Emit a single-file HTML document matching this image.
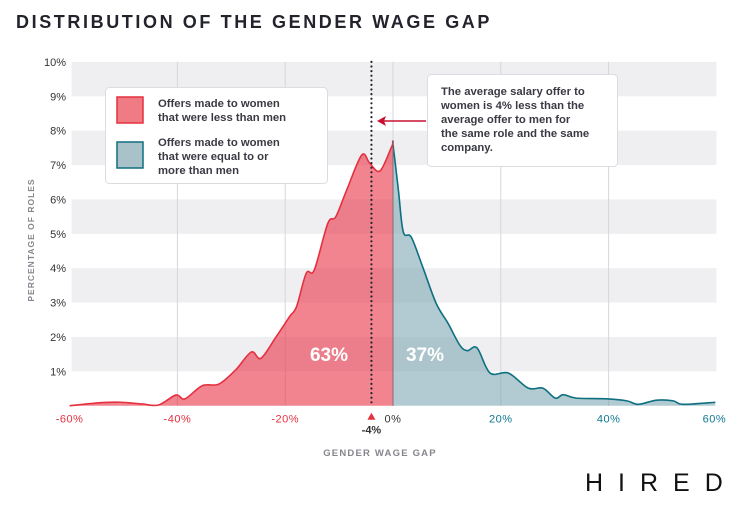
<!DOCTYPE html>
<html><head><meta charset="utf-8"><style>
body{margin:0;background:#fff;width:736px;height:507px;overflow:hidden;font-family:"Liberation Sans",sans-serif}
</style></head><body>
<svg width="736" height="507" xmlns="http://www.w3.org/2000/svg">
<text x="16" y="28" font-size="18" font-weight="bold" fill="#23232e" letter-spacing="2.6">DISTRIBUTION OF THE GENDER WAGE GAP</text>
<g id="bands"></g>
<g id="grid"></g>
<g id="yticks"></g>
<g id="xticks"></g>
<g id="areas"></g>
<text x="34" y="240" transform="rotate(-90 34 240)" font-size="8.5" font-weight="bold" fill="#85858e" text-anchor="middle" letter-spacing="1">PERCENTAGE OF ROLES</text>
<text x="380" y="456" font-size="9.5" font-weight="bold" fill="#85858e" text-anchor="middle" letter-spacing="1.2">GENDER WAGE GAP</text>
<g>
<rect x="105.5" y="87.5" width="222" height="96" rx="4" fill="#fff" stroke="#dcdce0"/>
<rect x="117" y="97" width="26" height="26" fill="#ef7b84" stroke="#e5303f" stroke-width="1.5"/>
<text font-size="11.3" font-weight="bold" fill="#3a3a44"><tspan x="158" y="107">Offers made to women</tspan><tspan x="158" y="121">that were less than men</tspan></text>
<rect x="117" y="142" width="26" height="26" fill="#a9c2ca" stroke="#0e6f80" stroke-width="1.5"/>
<text font-size="11.3" font-weight="bold" fill="#3a3a44"><tspan x="158" y="146">Offers made to women</tspan><tspan x="158" y="160">that were equal to or</tspan><tspan x="158" y="174">more than men</tspan></text>
</g>
<g>
<rect x="427.5" y="74.5" width="190" height="92" rx="4" fill="#fff" stroke="#dcdce0"/>
<text font-size="11.3" font-weight="bold" fill="#3a3a44"><tspan x="441" y="95">The average salary offer to</tspan><tspan x="441" y="109">women is 4% less than the</tspan><tspan x="441" y="123">average offer to men for</tspan><tspan x="441" y="137">the same role and the same</tspan><tspan x="441" y="151">company.</tspan></text>
<line x1="426" y1="121" x2="384" y2="121" stroke="#c8102e" stroke-width="1.5"/>
<polygon points="377,121 386,116 384,121 386,126" fill="#c8102e"/>
</g>
<text x="585" y="491" font-size="25" fill="#111" letter-spacing="15">HIRED</text>
</svg>
<script>
const xVals=[-60,-53.9,-50.5,-46.6,-43.5,-40.3,-38.6,-35.4,-32.3,-29.2,-26.3,-24.5,-21.7,-19.2,-17.9,-16.1,-14.6,-12.1,-10.6,-8.6,-5.8,-4.3,-2.4,-0.2,0,1.0,1.9,3.4,5.5,8.0,10.2,12.4,13.8,15.6,18.0,21.4,25.1,27.8,30.1,31.6,34.0,39.6,43.4,45.5,48.9,52.0,53.8,59.8];
const yVals=[0,0.09,0.1,0.05,0.02,0.31,0.2,0.58,0.63,1.04,1.56,1.38,2.0,2.59,2.88,3.85,3.95,5.3,5.5,6.27,7.29,7.05,6.83,7.55,7.58,6.27,5.06,4.9,4.04,2.98,2.4,1.76,1.6,1.68,0.95,0.95,0.51,0.51,0.22,0.32,0.22,0.2,0.14,0.04,0.16,0.14,0.04,0.1];
const xTicks=[-60,-40,-20,0,20,40,60];
const yTicks=[1,2,3,4,5,6,7,8,9,10];
const meanGap=-4;
const shareLess="63%", shareMore="37%";
const NS="http://www.w3.org/2000/svg";
const X=v=>393+v*5.39, Y=v=>405.7-v*34.38;
function mk(tag,attrs,parent){const e=document.createElementNS(NS,tag);for(const k in attrs)e.setAttribute(k,attrs[k]);parent.appendChild(e);return e;}
const svg=document.querySelector('svg');
const bands=document.getElementById('bands'),grid=document.getElementById('grid'),yt=document.getElementById('yticks'),xt=document.getElementById('xticks'),areas=document.getElementById('areas');
for(let k=1;k<=10;k+=2){const r=mk('rect',{x:X(-60)+2,y:Y(k+1),width:X(60)-X(-60)-2,height:Y(k)-Y(k+1),fill:'#efeff1'},bands);

}
xTicks.forEach(v=>{if(v>-60&&v<60){const l=mk('line',{x1:X(v),x2:X(v),y1:Y(10),y2:Y(0),stroke:'#d3d8dc','stroke-width':1},grid);

}
const t=mk('text',{x:X(v)-(v===60?2:0),y:Y(0)+17,'font-size':11,'text-anchor':'middle',fill:v<0?'#e5303f':(v>0?'#0e7892':'#333'),'letter-spacing':0.5},xt);
t.textContent=v+'%';

});
yTicks.forEach(v=>{const t=mk('text',{x:66,y:Y(v)+4,'font-size':11,'text-anchor':'end',fill:'#333'},yt);
t.textContent=v+'%';

});
const P=xVals.map((v,i)=>[X(v),Y(yVals[i])]);
let d='M'+P[0][0]+','+P[0][1];
for(let i=0;i<P.length-1;i++){const p0=P[Math.max(0,i-1)],p1=P[i],p2=P[i+1],p3=P[Math.min(P.length-1,i+2)];
d+=' C'+(p1[0]+(p2[0]-p0[0])/6)+','+(p1[1]+(p2[1]-p0[1])/6)+' '+(p2[0]-(p3[0]-p1[0])/6)+','+(p2[1]-(p3[1]-p1[1])/6)+' '+p2[0]+','+p2[1];}
const defs=mk('defs',{},svg);
const c1=mk('clipPath',{id:'cl'},defs);mk('rect',{x:0,y:0,width:X(0),height:507},c1);
const c2=mk('clipPath',{id:'cr'},defs);mk('rect',{x:X(0),y:0,width:736,height:507},c2);
const fillD=d+' L'+P[P.length-1][0]+','+Y(0)+' L'+P[0][0]+','+Y(0)+' Z';
const fl=mk('path',{d:fillD,fill:'#e8394a','fill-opacity':0.62,'clip-path':'url(#cl)'},areas);


const fr=mk('path',{d:fillD,fill:'#7fa9b4','fill-opacity':0.6,'clip-path':'url(#cr)'},areas);


const sl=mk('path',{d:d,fill:'none',stroke:'#e5303f','stroke-width':1.6,'clip-path':'url(#cl)'},areas);


const sr=mk('path',{d:d,fill:'none',stroke:'#0e6f80','stroke-width':1.6,'clip-path':'url(#cr)'},areas);


const zl=mk('line',{x1:X(0),x2:X(0),y1:Y(7.5),y2:Y(0),stroke:'#8a6a70','stroke-width':1},areas);


const ml=mk('line',{x1:X(meanGap),x2:X(meanGap),y1:Y(10),y2:Y(0),stroke:'#23232e','stroke-width':2.2,'stroke-dasharray':'0 4.6','stroke-linecap':'round'},areas);


const tri=mk('polygon',{points:(X(meanGap)-4)+','+(Y(0)+14)+' '+(X(meanGap)+4)+','+(Y(0)+14)+' '+X(meanGap)+','+(Y(0)+7),fill:'#e5303f'},xt);


const mt=mk('text',{x:X(meanGap),y:Y(0)+28,'font-size':11,'font-weight':'bold','text-anchor':'middle',fill:'#333'},xt);
mt.textContent=meanGap+'%';


const t1=mk('text',{x:329,y:361,'font-size':19,'font-weight':'bold','text-anchor':'middle',fill:'#fff'},areas);
t1.textContent=shareLess;


const t2=mk('text',{x:425,y:361,'font-size':19,'font-weight':'bold','text-anchor':'middle',fill:'#fff'},areas);
t2.textContent=shareMore;


</script>
</body></html>
